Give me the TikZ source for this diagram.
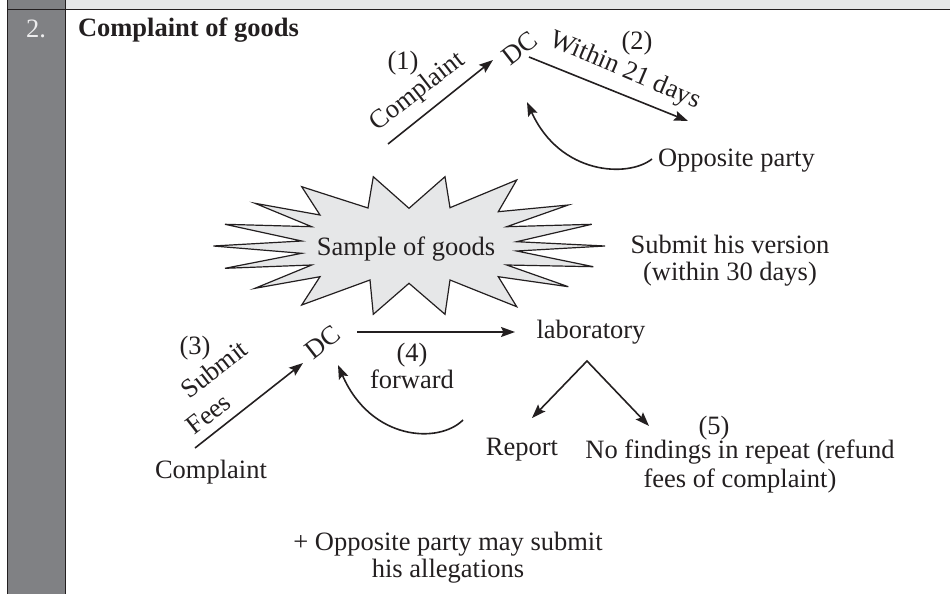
\documentclass[tikz,border=0pt]{standalone}
\usepackage{fontspec}
\setmainfont{Liberation Serif}
\usetikzlibrary{arrows.meta}
\definecolor{ink}{HTML}{231F20}
\definecolor{band}{HTML}{E6E7E8}
\definecolor{colgray}{HTML}{808184}
\definecolor{numtext}{HTML}{EDEDEE}
% two centred lines whose anchor "base" is the first baseline
\newcommand\twolines[2]{\begin{tabular}[t]{@{}c@{}}#1\\#2\end{tabular}}
\begin{document}
\begin{tikzpicture}[x=1pt,y=-1pt,
  every node/.style={font=\fontsize{26.5pt}{29pt}\selectfont, text=ink, inner sep=0pt, outer sep=0pt},
  tilted/.style={rotate=38},
  arr/.style={draw=ink, line width=1.6pt, -{Stealth[length=14pt,width=10pt,inset=2.5pt]}},
  rule/.style={draw=ink, line width=1.8pt},
  burst/.style={fill=band, draw=ink, line width=1.2pt, line join=miter}]
\useasboundingbox (0,0) rectangle (950,594);

% table frame: header band, number column and rules
\fill[band] (65,0) rectangle (950,9.5);
\fill[colgray] (7,0) rectangle (65.5,594);
\draw[rule] (7,9.5) -- (950,9.5);
\draw[ink, line width=1pt] (7,0) -- (7,594);
\draw[rule] (65.5,0) -- (65.5,594);

\node[anchor=base, text=numtext] (num) at (36,37.5) {2.};
\node[anchor=base west] (title) at (78,37) {\bfseries Complaint of goods};

% step (1)-(2): complaint to the DC, notice to the opposite party
\node[tilted] (dc1) at (520,48) {DC};
\node[anchor=base] (n1) at (403,69.5) {(1)};
\node[tilted] (compl1) at (418,92) {Complaint};
\node[anchor=base] (n2) at (637,49) {(2)};
\node[rotate=-23] (within) at (625,71) {Within 21 days};
\node[anchor=base west] (opp) at (658,166) {Opposite party};

\coordinate (a1s) at (388,144);
\coordinate (a1e) at (493,60);
\coordinate (a2s) at (529,57);
\coordinate (a2e) at (688,121);
\coordinate (r1s) at (652,159);
\coordinate (r1e) at (527,102);
\draw[arr] (a1s) -- (a1e);
\draw[arr] (a2s) -- (a2e);
\draw[arr] (r1s) .. controls (628,178) and (560,175) .. (r1e);

% the sample of goods
\filldraw[burst] (373.3,176.7) -- (409,208.3) -- (445,176.7) -- (450,207.7)
  -- (516.7,180) -- (498.3,211.7) -- (568.3,205) -- (506.7,226.7)
  -- (591.7,224.3) -- (516.7,241.7) -- (605,246) -- (516.7,251)
  -- (593.3,266.7) -- (506.7,265) -- (568.3,286.7) -- (498.3,276.7)
  -- (516.7,306.7) -- (450,280) -- (445,314.3) -- (409,283.3)
  -- (373.3,314.3) -- (370,280) -- (301.7,305) -- (320,276.7)
  -- (255,288.3) -- (311.7,265) -- (225,268.3) -- (301.7,253.3)
  -- (213.3,246) -- (301.7,241) -- (225,224.3) -- (311.7,226.7)
  -- (255,203.3) -- (320,215) -- (301.7,186.7) -- (368,208) -- cycle;
\node[anchor=base] (sample) at (406,255) {Sample of goods};

\node[anchor=base, font=\fontsize{26.5pt}{27pt}\selectfont] (version) at (730,253)
  {\twolines{Submit his version}{(within 30 days)}};

% steps (3)-(5): fees, forwarding to the laboratory, report
\node[tilted] (dc2) at (323,342) {DC};
\node[anchor=base] (n3) at (195,354) {(3)};
\node[tilted] (submit) at (214,369) {Submit};
\node[tilted] (fees) at (208.5,414) {Fees};
\node[anchor=base] (compl2) at (211,478) {Complaint};
\node[anchor=base] (n4) at (412,361) {(4)};
\node[anchor=base] (fwd) at (412,388) {forward};
\node[anchor=base] (lab) at (591,338) {laboratory};
\node[anchor=base] (report) at (522,455) {Report};
\node[anchor=base] (n5) at (714,434) {(5)};
\node[anchor=base] (nofind) at (740,458)
  {\twolines{No findings in repeat (refund}{fees of complaint)}};

\coordinate (a3s) at (195,448);
\coordinate (a3e) at (303,363);
\coordinate (a4s) at (357,332);
\coordinate (a4e) at (515,332);
\coordinate (split) at (587,361);
\coordinate (a5l) at (532,418);
\coordinate (a5r) at (649,426);
\coordinate (r2s) at (463,420);
\coordinate (r2e) at (338,365);
\draw[arr] (a3s) -- (a3e);
\draw[arr] (a4s) -- (a4e);
\draw[arr, {Stealth[length=14pt,width=10pt,inset=2.5pt]}-{Stealth[length=14pt,width=10pt,inset=2.5pt]}, line join=miter]
  (a5l) -- (split) -- (a5r);
\draw[arr] (r2s) .. controls (439,444) and (371,441) .. (r2e);

\node[anchor=base, font=\fontsize{26.5pt}{27pt}\selectfont] (allege) at (448,550)
  {\twolines{+ Opposite party may submit}{his allegations}};
\end{tikzpicture}
\end{document}
